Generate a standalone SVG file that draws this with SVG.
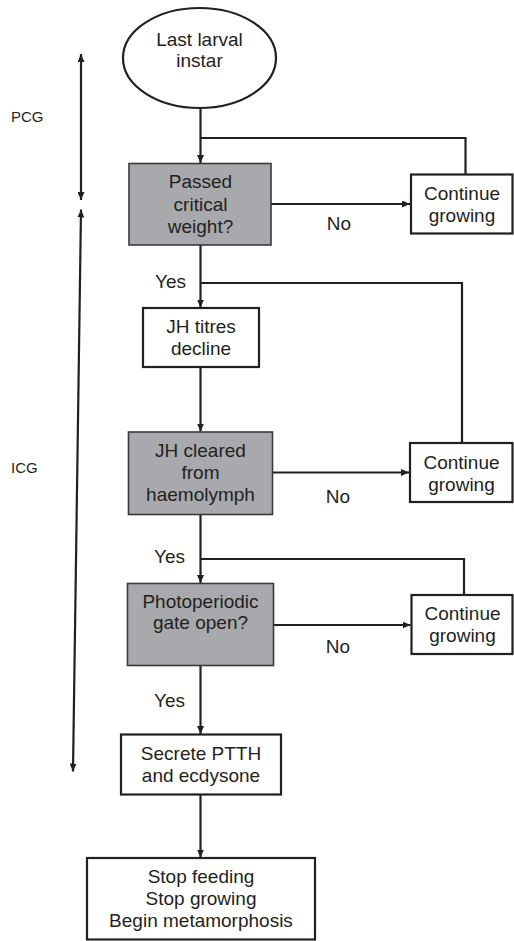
<svg xmlns="http://www.w3.org/2000/svg" width="514" height="941" viewBox="0 0 514 941">
<style>
text{font-family:"Liberation Sans",Arial,sans-serif;font-size:19px;fill:#231f20;text-anchor:middle}
.side{font-size:15px;text-anchor:start}
.box{fill:#fff;stroke:#231f20;stroke-width:2.2}
.gray{fill:#a7a9ac;stroke:#3a3a3c;stroke-width:1.6}
.ln{fill:none;stroke:#231f20;stroke-width:2.2}
.arr{fill:none;stroke:#231f20;stroke-width:2.2;marker-end:url(#ah)}
</style>
<defs>
<marker id="ah" viewBox="0 0 8 7" refX="8" refY="3.5" markerWidth="8" markerHeight="7" markerUnits="userSpaceOnUse" orient="auto-start-reverse">
<path d="M0,0 L8,3.5 L0,7 z" fill="#231f20"/>
</marker>
</defs>
<rect width="514" height="941" fill="#fff"/>
<g id="connectors">
<line class="arr" x1="200.5" y1="108" x2="200.5" y2="163"/>
<polyline class="ln" points="200.5,138 465.5,138 465.5,174"/>
<line class="arr" x1="271" y1="204" x2="410" y2="204"/>
<line class="arr" x1="200.5" y1="245" x2="200.5" y2="307.5"/>
<polyline class="ln" points="200.5,283 462,283 462,443"/>
<line class="arr" x1="200.5" y1="367" x2="200.5" y2="431.5"/>
<line class="arr" x1="272.5" y1="472.5" x2="409" y2="472.5"/>
<line class="arr" x1="200.5" y1="514.5" x2="200.5" y2="583"/>
<polyline class="ln" points="200.5,559 464,559 464,595"/>
<line class="arr" x1="273" y1="625" x2="410.5" y2="625"/>
<line class="arr" x1="200.5" y1="666" x2="200.5" y2="734"/>
<line class="arr" x1="200.5" y1="794.5" x2="200.5" y2="857.5"/>
<line class="arr" x1="81" y1="54" x2="81" y2="200" style="marker-start:url(#ah)"/>
<line class="arr" x1="73" y1="771.5" x2="81" y2="209.5" style="marker-start:url(#ah)"/>
</g>
<g id="labels">
<text class="side" x="11" y="121.5">PCG</text>
<text class="side" x="11" y="473">ICG</text>
<text x="339" y="230">No</text>
<text x="338" y="502.5">No</text>
<text x="338" y="653">No</text>
<text x="170.5" y="288">Yes</text>
<text x="169.5" y="563">Yes</text>
<text x="169.5" y="706.5">Yes</text>
</g>
<g id="start">
<ellipse cx="199.5" cy="58" rx="76.5" ry="50" class="box"/>
<text x="199.5" y="46">Last larval</text>
<text x="199.5" y="67">instar</text>
</g>
<g id="critical">
<rect class="gray" x="129" y="163.5" width="142" height="81.5"/>
<text x="200.5" y="188">Passed</text>
<text x="200.5" y="211">critical</text>
<text x="200.5" y="233">weight?</text>
</g>
<g id="cont1">
<rect class="box" x="411" y="174.5" width="101.5" height="59"/>
<text x="462" y="200">Continue</text>
<text x="462" y="221.5">growing</text>
</g>
<g id="jhtitres">
<rect class="box" x="143" y="308" width="116" height="59"/>
<text x="201" y="332.5">JH titres</text>
<text x="201" y="355">decline</text>
</g>
<g id="jhcleared">
<rect class="gray" x="128.5" y="432" width="144" height="82.5"/>
<text x="200.5" y="457">JH cleared</text>
<text x="200.5" y="479">from</text>
<text x="200.5" y="500.5">haemolymph</text>
</g>
<g id="cont2">
<rect class="box" x="410" y="443" width="102.5" height="59"/>
<text x="461.5" y="469">Continue</text>
<text x="461.5" y="490.5">growing</text>
</g>
<g id="photo">
<rect class="gray" x="127.5" y="583.5" width="146" height="82"/>
<text x="200.5" y="608">Photoperiodic</text>
<text x="200.5" y="629">gate open?</text>
</g>
<g id="cont3">
<rect class="box" x="411.5" y="595" width="101" height="59"/>
<text x="462.5" y="620">Continue</text>
<text x="462.5" y="641.5">growing</text>
</g>
<g id="secrete">
<rect class="box" x="121" y="734.5" width="160" height="60"/>
<text x="201" y="760">Secrete PTTH</text>
<text x="201" y="781.5">and ecdysone</text>
</g>
<g id="stop">
<rect class="box" x="87" y="858" width="228" height="81.5"/>
<text x="201" y="882.5">Stop feeding</text>
<text x="201" y="905">Stop growing</text>
<text x="201" y="926.5">Begin metamorphosis</text>
</g>
</svg>
